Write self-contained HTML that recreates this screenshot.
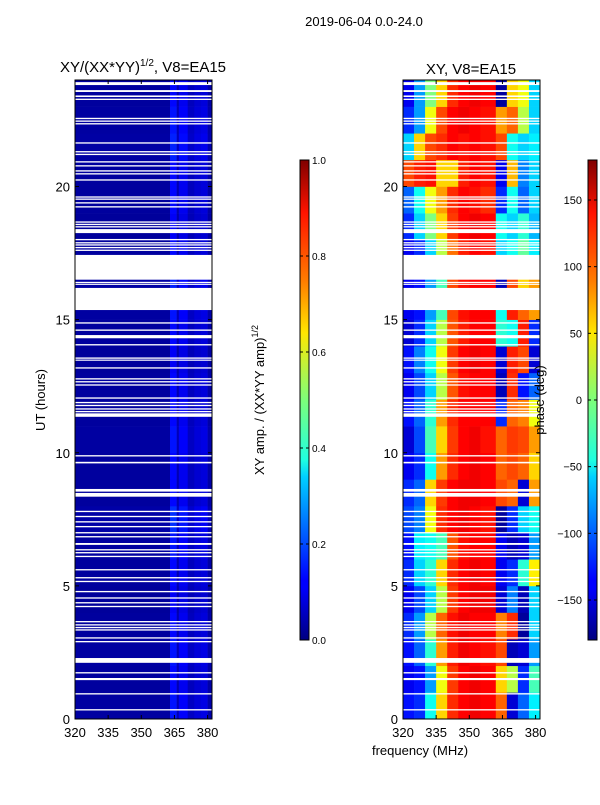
<!DOCTYPE html>
<html><head><meta charset="utf-8">
<style>
body{margin:0;background:#fff;font-family:"Liberation Sans","DejaVu Sans",sans-serif;}
svg text{font-family:"Liberation Sans","DejaVu Sans",sans-serif;}
</style></head>
<body>
<svg id="fig" width="600" height="800" viewBox="0 0 600 800" xmlns="http://www.w3.org/2000/svg">
<defs>
<linearGradient id="jet" x1="0" y1="1" x2="0" y2="0">
<stop offset="0" stop-color="#000080"/><stop offset="0.11" stop-color="#0000ff"/><stop offset="0.125" stop-color="#0000ff"/>
<stop offset="0.34" stop-color="#00d0ff"/><stop offset="0.375" stop-color="#1fffe0"/><stop offset="0.5" stop-color="#7dff7a"/>
<stop offset="0.64" stop-color="#ffe600"/><stop offset="0.75" stop-color="#ff7b00"/><stop offset="0.89" stop-color="#ff1300"/><stop offset="1" stop-color="#800000"/>
</linearGradient>
</defs>
<text x="364" y="26" font-size="13" text-anchor="middle">2019-06-04 0.0-24.0</text>
<text x="143" y="72" font-size="15" text-anchor="middle">XY/(XX*YY)<tspan font-size="10" dy="-6">1/2</tspan><tspan dy="6">, V8=EA15</tspan></text>
<text x="471" y="74" font-size="15" text-anchor="middle">XY, V8=EA15</text>
<g id="left"></g>
<g id="right"></g>
<g id="axes"></g>
<rect x="300" y="160" width="9" height="480" fill="url(#jet)" stroke="#000" stroke-width="1"/>
<rect x="588" y="160" width="9" height="480" fill="url(#jet)" stroke="#000" stroke-width="1"/>
<g id="cbars"></g>
<text transform="translate(264,400) rotate(-90)" font-size="13" text-anchor="middle">XY amp. / (XX*YY amp)<tspan font-size="9" dy="-6">1/2</tspan></text>
<text transform="translate(544,400) rotate(-90)" font-size="13" text-anchor="middle">phase (deg)</text>
<text transform="translate(45,400) rotate(-90)" font-size="13" text-anchor="middle">UT (hours)</text>
<text x="420" y="755" font-size="13" text-anchor="middle">frequency (MHz)</text>
</svg>
<script>
const gaps=[[23.81,23.92],[23.55,23.62],[23.36,23.42],[23.25,23.3],[22.53,22.58],[22.43,22.48],[22.33,22.38],[21.61,21.66],[21.28,21.33],[21.18,21.23],[20.9,20.95],[20.75,20.8],[20.56,20.61],[20.45,20.5],[20.22,20.27],[19.58,19.63],[19.5,19.55],[19.36,19.41],[19.21,19.26],[18.64,18.69],[18.55,18.6],[18.46,18.51],[18.25,18.4],[17.98,18.03],[17.86,17.91],[17.78,17.83],[17.68,17.73],[17.58,17.63],[16.5,17.43],[16.38,16.42],[16.31,16.35],[15.36,16.19],[14.85,14.9],[14.58,14.63],[14.3,14.42],[14.03,14.08],[13.53,13.58],[13.46,13.5],[13.16,13.21],[12.75,12.8],[12.64,12.69],[12.52,12.57],[12.03,12.08],[11.86,11.91],[11.75,11.8],[11.62,11.67],[11.52,11.57],[11.35,11.48],[9.86,9.91],[9.6,9.66],[8.54,8.64],[8.35,8.49],[7.77,7.82],[7.58,7.63],[7.38,7.43],[7.2,7.25],[6.97,7.02],[6.82,6.87],[6.54,6.61],[6.33,6.38],[6.22,6.27],[6.08,6.13],[5.58,5.63],[5.28,5.33],[5.14,5.19],[4.76,4.81],[4.52,4.57],[4.34,4.39],[4.2,4.25],[3.63,3.68],[3.51,3.56],[3.41,3.46],[3.32,3.37],[3.02,3.07],[2.88,2.93],[2.11,2.29],[1.71,1.76],[1.46,1.54],[0.92,0.97],[0.32,0.37]];
const ampEdges=[320,363,366,367,371,374,377,380,382];
const ampProfile=[0.03,0.13,0.05,0.11,0.06,0.08,0.09,0.04];
const ampGain=[1.1,1.0,1.1,1.0,0.9,1.0,1.1,1.3,1.0,1.0,1.1,1.0,1.0,0.9,1.0,1.1,1.2,1.0,0.9,1.0,1.0,1.2,1.1,1.0];
const phaseEdges=[320,325,330,335,340,345,350,355,362,367,372,377,382];
const phase=[
[-130,-120,-40,60,120,135,140,135,100,-150,-100,-50],
[-140,-130,-80,40,115,135,140,135,60,20,-120,-20],
[-130,-100,-30,80,125,140,135,130,110,-160,-150,-80],
[-120,-80,20,100,130,140,135,135,90,120,-170,-60],
[-140,-110,-60,20,115,135,140,140,-150,-90,-160,-60],
[-120,-60,-30,60,120,135,140,135,-140,-120,-30,50],
[-130,-50,-40,-20,105,130,135,135,-140,-160,-150,-80],
[-110,-90,40,120,135,140,135,130,-170,-120,-60,-40],
[-120,-100,60,115,135,140,140,135,110,100,-150,80],
[-140,-120,-40,80,120,135,140,135,100,110,100,60],
[-150,-110,-20,60,115,135,140,130,100,115,110,80],
[-130,-100,-30,80,120,135,135,135,-120,100,90,40],
[-140,-110,-60,20,105,130,135,135,-160,120,-130,-100],
[-130,-90,-40,40,115,135,140,135,-150,125,110,-150],
[-150,-120,-60,20,105,125,135,135,-30,-40,125,-120],
[-140,-130,-80,-20,110,130,135,135,-40,125,100,80],
[-140,-130,-80,-20,110,130,135,135,-160,110,60,80],
[-140,-120,-60,20,95,125,135,130,-60,-40,-10,-50],
[-120,-60,0,60,115,135,140,135,-40,-60,-30,-70],
[-100,-40,40,80,120,135,130,120,-120,-40,-100,-60],
[110,125,130,60,60,125,135,130,-140,70,-90,-60],
[-60,60,110,120,135,130,135,130,110,-40,-60,-50],
[-120,-80,40,110,135,140,135,130,80,100,20,-60],
[-140,-80,0,60,120,135,140,135,-170,60,40,-60]];
const yTicks=[0,5,10,15,20];
const xTicks=[320,335,350,365,380];
const ampTicks=[0.0,0.2,0.4,0.6,0.8,1.0];
const phaseTicks=[-150,-100,-50,0,50,100,150];

const NS='http://www.w3.org/2000/svg';
const Y0=719,Y1=80;
const yS=h=>Y0-(h/24)*(Y0-Y1);
function xS(left){return f=>left+(f-320)/62*137;}
function jet(t){t=Math.max(0,Math.min(1,t));
 const c=x=>Math.round(255*Math.max(0,Math.min(1,1.5-Math.abs(4*t-x))));
 return `rgb(${c(3)},${c(2)},${c(1)})`;}
function mk(tag,attrs,parent){const e=document.createElementNS(NS,tag);for(const k in attrs)e.setAttribute(k,attrs[k]);parent.appendChild(e);return e;}
const L=document.getElementById('left'),R=document.getElementById('right'),A=document.getElementById('axes'),C=document.getElementById('cbars');
const xl=xS(75),xr=xS(403);
for(let h=0;h<24;h++){
 const yt=yS(h+1),yb=yS(h);
 for(let i=0;i<ampProfile.length;i++){
  const r=mk('rect',{x:xl(ampEdges[i]),y:yt,width:xl(ampEdges[i+1])-xl(ampEdges[i])+0.3,height:yb-yt+0.3,fill:jet(ampProfile[i]*ampGain[h])},L);
  
  
 }
 for(let i=0;i<phase[h].length;i++){
  const r=mk('rect',{x:xr(phaseEdges[i]),y:yt,width:xr(phaseEdges[i+1])-xr(phaseEdges[i])+0.3,height:yb-yt+0.3,fill:jet((phase[h][i]+180)/360)},R);
  
  
 }
}
for(const g of gaps){
 for(const left of [75,403]){
  const r=mk('rect',{x:left,y:yS(g[1]),width:137,height:Math.max(1.2,yS(g[0])-yS(g[1])),fill:'#fff'},A);
  
  
 }
}
for(const left of [75,403]){
 const fr=mk('rect',{x:left,y:Y1,width:137,height:Y0-Y1,fill:'none',stroke:'#000','stroke-width':1},A);
 
 
 const xs=xS(left);
 for(const t of yTicks){
  const y=yS(t);
  mk('line',{x1:left,x2:left+4,y1:y,y2:y,stroke:'#000'},A);
  mk('line',{x1:left+137,x2:left+133,y1:y,y2:y,stroke:'#000'},A);
  const tx=mk('text',{x:left-5,y:y+5,'font-size':13,'text-anchor':'end'},A);tx.textContent=t;
  
  
 }
 for(const t of xTicks){
  const x=xs(t);
  mk('line',{x1:x,x2:x,y1:Y0,y2:Y0-4,stroke:'#000'},A);
  mk('line',{x1:x,x2:x,y1:Y1,y2:Y1+4,stroke:'#000'},A);
  const tx=mk('text',{x:x,y:737,'font-size':13,'text-anchor':'middle'},A);tx.textContent=t;
  
  
 }
}
for(const t of ampTicks){
 const y=640-t*480;
 mk('line',{x1:300,x2:303,y1:y,y2:y,stroke:'#000'},C);mk('line',{x1:309,x2:306,y1:y,y2:y,stroke:'#000'},C);
 const tx=mk('text',{x:312,y:y+4,'font-size':10},C);tx.textContent=t.toFixed(1);
 
 
}
for(const t of phaseTicks){
 const y=640-(t+180)/360*480;
 mk('line',{x1:588,x2:591,y1:y,y2:y,stroke:'#000'},C);mk('line',{x1:597,x2:594,y1:y,y2:y,stroke:'#000'},C);
 const tx=mk('text',{x:582,y:y+4,'font-size':11,'text-anchor':'end'},C);tx.textContent=t<0?'\u2212'+(-t):t;
 
 
}
</script>
</body></html>
